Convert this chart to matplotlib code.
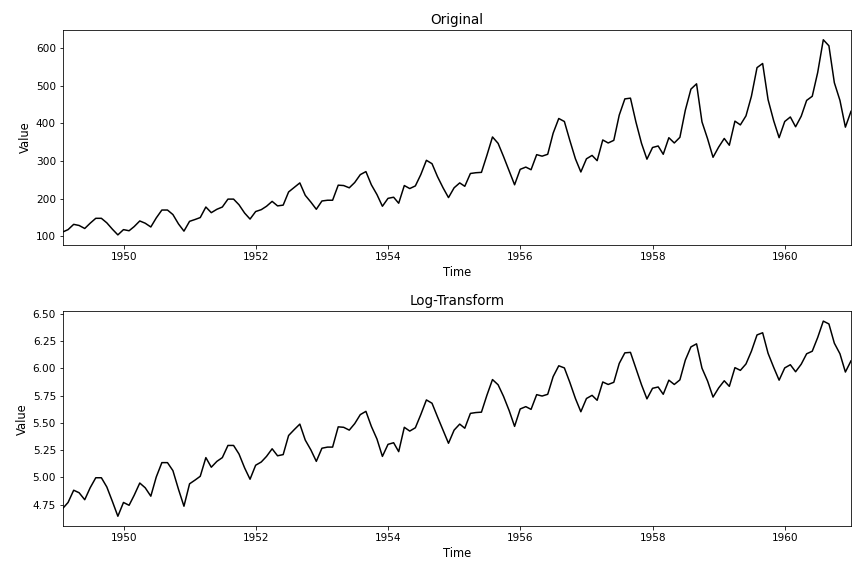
import numpy as np
import pandas as pd
import matplotlib
matplotlib.use("Agg")
import matplotlib.pyplot as plt

# monthly airline passengers, 1949-1960
passengers = [
    112, 118, 132, 129, 121, 135, 148, 148, 136, 119, 104, 118,
    115, 126, 141, 135, 125, 149, 170, 170, 158, 133, 114, 140,
    145, 150, 178, 163, 172, 178, 199, 199, 184, 162, 146, 166,
    171, 180, 193, 181, 183, 218, 230, 242, 209, 191, 172, 194,
    196, 196, 236, 235, 229, 243, 264, 272, 237, 211, 180, 201,
    204, 188, 235, 227, 234, 264, 302, 293, 259, 229, 203, 229,
    242, 233, 267, 269, 270, 315, 364, 347, 312, 274, 237, 278,
    284, 277, 317, 313, 318, 374, 413, 405, 355, 306, 271, 306,
    315, 301, 356, 348, 355, 422, 465, 467, 404, 347, 305, 336,
    340, 318, 362, 348, 363, 435, 491, 505, 404, 359, 310, 337,
    360, 342, 406, 396, 420, 472, 548, 559, 463, 407, 362, 405,
    417, 391, 419, 461, 472, 535, 622, 606, 508, 461, 390, 432,
]
# month-end index
dates = pd.date_range("1949-01-31", periods=len(passengers), freq="ME")
log_passengers = np.log(passengers)

plt.rcParams['xtick.labelsize'] = 10.5
plt.rcParams['ytick.labelsize'] = 10.5
plt.rcParams['axes.labelsize'] = 11.5
plt.rcParams['axes.titlesize'] = 13.5

fig, axes = plt.subplots(2, 1, figsize=(12, 8), dpi=72)

axes[0].plot(dates, passengers, color="black")
axes[0].set_title("Original")
axes[1].plot(dates, log_passengers, color="black")
axes[1].set_title("Log-Transform")

for ax in axes:
    ax.set_xlabel("Time")
    ax.set_ylabel("Value")
    ax.set_xlim(dates[0], dates[-1])

plt.tight_layout()
plt.subplots_adjust(left=63/864, right=851/864, top=1-30/576, bottom=1-526/576,
                    hspace=(311.7-245)/((526-30-(311.7-245))/2))
plt.savefig("out.png")
